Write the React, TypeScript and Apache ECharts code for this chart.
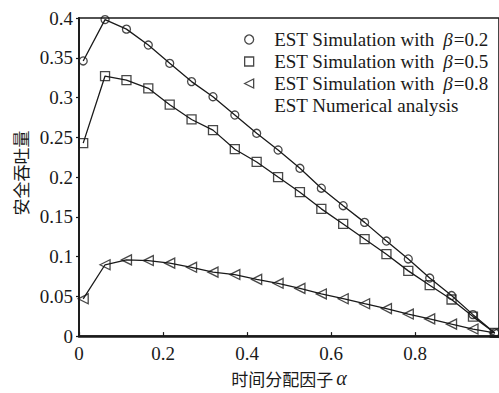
import React, { useEffect, useRef } from "react";
import * as echarts from "echarts";

const alpha = [0.01, 0.062, 0.113, 0.165, 0.216, 0.268, 0.319, 0.371, 0.423, 0.474, 0.526, 0.577, 0.629, 0.68, 0.732, 0.784, 0.835, 0.887, 0.938, 0.99];
const beta02 = [0.346, 0.398, 0.386, 0.366, 0.343, 0.32, 0.301, 0.278, 0.255, 0.234, 0.211, 0.186, 0.164, 0.143, 0.1195, 0.097, 0.073, 0.051, 0.027, 0.004];
const beta05 = [0.2426, 0.327, 0.322, 0.3116, 0.291, 0.2724, 0.259, 0.235, 0.219, 0.2, 0.181, 0.16, 0.141, 0.122, 0.103, 0.082, 0.064, 0.046, 0.0245, 0.004];
const beta08 = [0.0469, 0.0897, 0.0958, 0.095, 0.0917, 0.0865, 0.0804, 0.0774, 0.0713, 0.0664, 0.06, 0.053, 0.047, 0.0407, 0.0346, 0.0277, 0.0216, 0.015, 0.0089, 0.004];
const seriesNames = ["EST Simulation with β=0.2", "EST Simulation with β=0.5", "EST Simulation with β=0.8"];
const lineName = "EST Numerical analysis";
const yTicks = [0, 0.4, 0.05];
const xTicks = [0, 1, 0.2];

const TRI_LEFT = "path://M0,5 L10,0 L10,10 Z";
const SQUARE = "path://M0,0 L10,0 L10,10 L0,10 Z";
const SERIF = "Liberation Serif";
const CJK = "Noto Sans CJK SC";
const INK = "#1a1a1a";

export default function App() {
  const ref = useRef<HTMLDivElement>(null);
  useEffect(() => {
    document.body.style.margin = "0";
    const chart = echarts.init(ref.current!, null, { renderer: "svg" });
    const sets = [beta02, beta05, beta08];
    const symbols = ["circle", "rect", TRI_LEFT];
    const sizes = [8, 9, [10, 10]];
    const pts = (ys: number[]) => alpha.map((a, i) => [a, ys[i]]);
    const series: any[] = [];
    sets.forEach((ys) => {
      series.push({
        name: lineName,
        type: "line",
        data: pts(ys),
        symbol: "none",
        lineStyle: { color: INK, width: 1.3 },
        z: 2,
      });
    });
    sets.forEach((ys, k) => {
      series.push({
        name: seriesNames[k],
        type: "scatter",
        data: pts(ys),
        symbol: symbols[k],
        symbolSize: sizes[k],
        itemStyle: { color: "rgba(0,0,0,0)", borderColor: INK, borderWidth: 1.3 },
        z: 3,
      });
    });
    const hollow = { color: "rgba(0,0,0,0)", borderColor: INK, borderWidth: 1.3 };
    chart.setOption({
      animation: false,
      grid: {
        left: 79,
        top: 18,
        right: -6,
        bottom: 48,
        show: true,
        borderColor: INK,
        borderWidth: 1.6,
        backgroundColor: "transparent",
      },
      legend: {
        orient: "vertical",
        left: 239,
        top: 25,
        itemWidth: 40,
        itemHeight: 9,
        itemGap: 3,
        selectedMode: false,
        data: [
          { name: seriesNames[0], icon: "circle", itemStyle: hollow },
          { name: seriesNames[1], icon: SQUARE, itemStyle: hollow },
          { name: seriesNames[2], icon: TRI_LEFT, itemStyle: hollow },
          { name: lineName, icon: SQUARE, itemStyle: { color: "rgba(0,0,0,0)", borderColor: "rgba(0,0,0,0)", borderWidth: 0, opacity: 0 } },
        ],
        formatter: (name: string) => name.replace("β", "{i|β}"),
        textStyle: {
          fontFamily: SERIF,
          fontSize: 19,
          color: INK,
          lineHeight: 17,
          rich: {
            i: { fontFamily: SERIF, fontStyle: "italic", fontSize: 19, color: INK, lineHeight: 17, padding: [0, 1, 0, 4] },
          },
        },
      },
      xAxis: {
        type: "value",
        min: xTicks[0],
        max: xTicks[1],
        interval: xTicks[2],
        name: "时间分配因子{i|α}",
        nameLocation: "middle",
        nameGap: 31,
        nameTextStyle: {
          fontFamily: CJK,
          fontSize: 17,
          color: INK,
          rich: { i: { fontFamily: SERIF, fontStyle: "italic", fontSize: 20, color: INK, padding: [0, 0, 0, 3] } },
        },
        axisLine: { show: true, onZero: false, lineStyle: { color: INK, width: 2.6 } },
        axisTick: { show: true, inside: true, length: 4, lineStyle: { color: INK, width: 1.2 } },
        axisLabel: { fontFamily: SERIF, fontSize: 19, color: INK, margin: 8, showMaxLabel: false },
        splitLine: { show: false },
      },
      yAxis: {
        type: "value",
        min: yTicks[0],
        max: yTicks[1],
        interval: yTicks[2],
        name: "安全吞吐量",
        nameLocation: "middle",
        nameGap: 49,
        nameRotate: 90,
        nameTextStyle: { fontFamily: CJK, fontSize: 17, color: INK, padding: [0, 0, 0, 8] },
        axisLine: { show: true, onZero: false, lineStyle: { color: INK, width: 1.8 } },
        axisTick: { show: true, inside: false, length: 3, lineStyle: { color: INK, width: 1.2 } },
        axisLabel: { fontFamily: SERIF, fontSize: 19, color: INK, margin: 6 },
        splitLine: { show: false },
      },
      series,
    });
    return () => chart.dispose();
  }, []);
  return <div ref={ref} style={{ width: 499, height: 393 }} />;
}
